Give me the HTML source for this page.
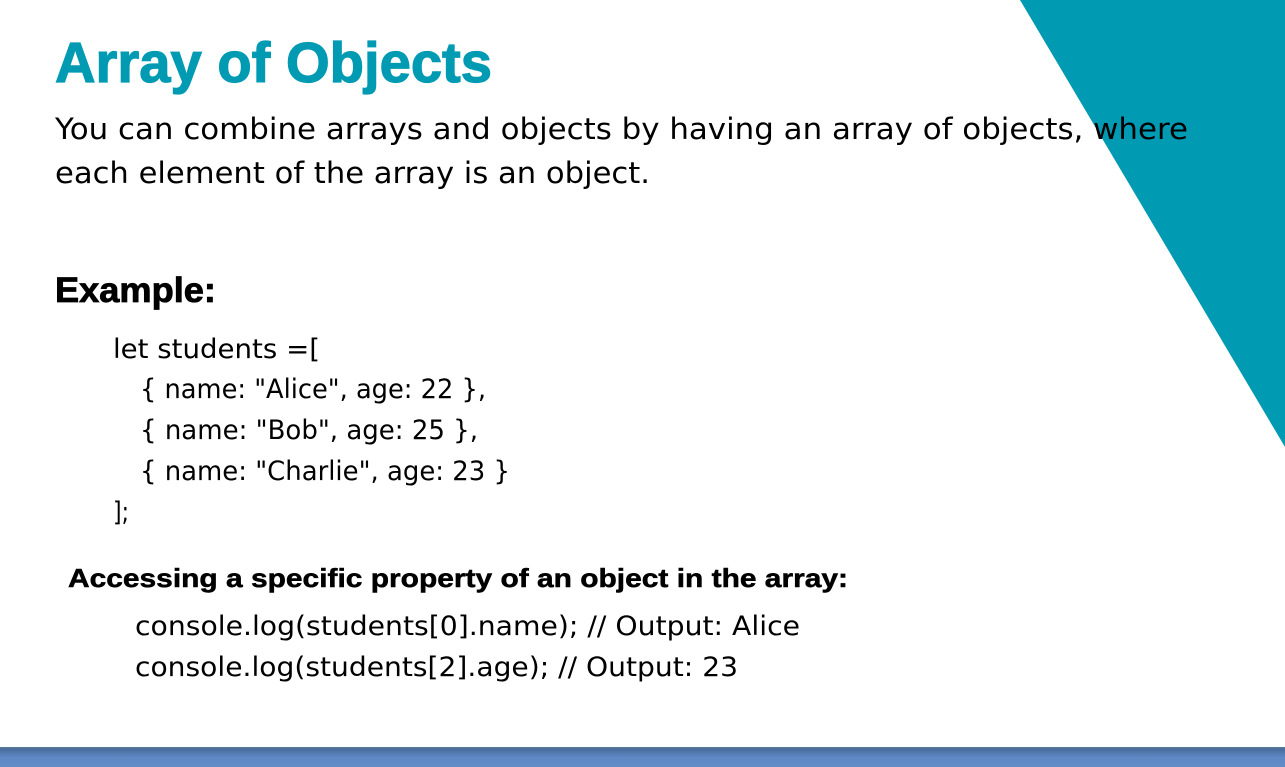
<!DOCTYPE html>
<html><head><meta charset="utf-8"><style>
html,body{margin:0;padding:0;background:#fff;width:1285px;height:767px;overflow:hidden}
</style></head><body>
<svg width="1285" height="767" xmlns="http://www.w3.org/2000/svg">
<defs><linearGradient id="g" x1="0" y1="0" x2="0" y2="1">
<stop offset="0" stop-color="#5c7e96"/><stop offset="0.1" stop-color="#4a6c9c"/><stop offset="0.5" stop-color="#5f88c4"/><stop offset="1" stop-color="#618cc6"/></linearGradient></defs>
<polygon points="1020,0 1285,0 1285,447" fill="#009ab3"/>
<rect x="0" y="747" width="1285" height="20" fill="url(#g)"/>
<g font-family="Liberation Sans, DejaVu Sans, sans-serif">
<text x="55" y="82" font-size="57" font-weight="bold" fill="#009ab3" stroke="#009ab3" stroke-width="1.2" textLength="437" lengthAdjust="spacingAndGlyphs">Array of Objects</text>
<text x="55" y="302" font-size="35" font-weight="bold" fill="#000" stroke="#000" stroke-width="0.8" textLength="161" lengthAdjust="spacingAndGlyphs">Example:</text>
<text x="68" y="587" font-size="26" font-weight="bold" fill="#000" stroke="#000" stroke-width="0.5" textLength="780" lengthAdjust="spacingAndGlyphs">Accessing a specific property of an object in the array:</text>
</g>
<g font-family="DejaVu Sans, sans-serif" fill="#000">
<text x="55" y="139" font-size="29" textLength="1133" lengthAdjust="spacingAndGlyphs">You can combine arrays and objects by having an array of objects, where</text>
<text x="55" y="183" font-size="29" textLength="595" lengthAdjust="spacingAndGlyphs">each element of the array is an object.</text>
<g font-size="27">
<text x="113" y="358" textLength="207" lengthAdjust="spacingAndGlyphs">let students =[</text>
<text x="140" y="398" textLength="346" lengthAdjust="spacingAndGlyphs">{ name: "Alice", age: 22 },</text>
<text x="140" y="439" textLength="338" lengthAdjust="spacingAndGlyphs">{ name: "Bob", age: 25 },</text>
<text x="140" y="480" textLength="370" lengthAdjust="spacingAndGlyphs">{ name: "Charlie", age: 23 }</text>
<text x="113" y="521" textLength="16" lengthAdjust="spacingAndGlyphs">];</text>
<text x="135" y="635" textLength="665" lengthAdjust="spacingAndGlyphs">console.log(students[0].name); // Output: Alice</text>
<text x="135" y="676" textLength="603" lengthAdjust="spacingAndGlyphs">console.log(students[2].age);  // Output: 23</text>
</g></g>
</svg>
</body></html>
